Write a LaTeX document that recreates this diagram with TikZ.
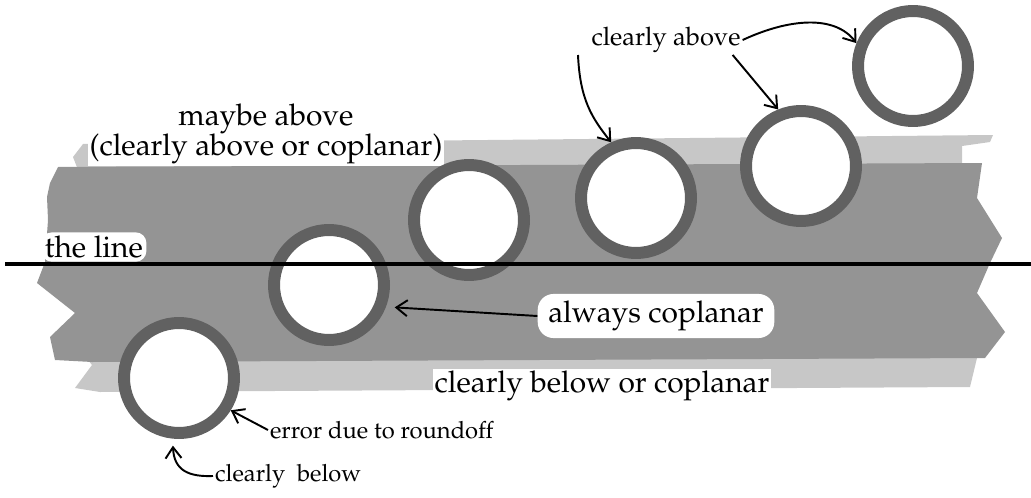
\documentclass[tikz,border=0pt]{standalone}
\usepackage[T1]{fontenc}
\usepackage{mathpazo}
\usepackage{tikz}
\usetikzlibrary{arrows.meta, calc}

\begin{document}
\begin{tikzpicture}[x=0.02cm, y=-0.02cm,
	lightband/.style={fill=black!22},
	darkband/.style={fill=black!42},
	ring/.style={circle, draw=black!62, line width=0.24cm, fill=white,
		minimum size=2.2cm, inner sep=0pt},
	bigtext/.style={font=\fontsize{17}{17.5}\selectfont, inner sep=1pt},
	midtext/.style={font=\fontsize{14.5}{16}\selectfont, inner sep=1pt},
	smalltext/.style={font=\fontsize{13.5}{15}\selectfont, inner sep=1pt},
	pointer/.style={-{Straight Barb[length=2.2mm, width=3.2mm]}, line width=1.1pt}]

	\useasboundingbox (0,0) rectangle (1031,497);

	% the two bands
	\fill[lightband] (83,144) -- (993,135) -- (990,142) -- (962,146) -- (962,170)
		-- (970,355) -- (977,358) -- (970,387) -- (100,392) -- (75,388)
		-- (92,365) -- (80,350) -- (80,175) -- (73,157) -- cycle;
	\fill[darkband] (58,167) -- (982,163) -- (977,198) -- (1002,238) -- (990,263)
		-- (977,293) -- (1005,332) -- (985,358) -- (92,362) -- (55,360)
		-- (50,337) -- (75,313) -- (37,283) -- (45,262) -- (48,220)
		-- (47,197) -- (50,183) -- cycle;

	% labels
	\node[bigtext, fill=white, align=center] (maybe) at (266,134)
		{maybe above\\(clearly above or coplanar)};
	\node[bigtext, fill=white, rounded corners=6pt, inner sep=2pt, anchor=south west]
		(lbl) at (41,262) {the line};
	\node[midtext] (above) at (666,40) {clearly above};
	\node[bigtext, fill=white, rounded corners=9pt, inner xsep=6pt, inner ysep=4pt]
		(always) at (656,316) {always coplanar};
	\node[bigtext, fill=white] (orbelow) at (602,386) {clearly below or coplanar};
	\node[smalltext, anchor=west] (roundoff) at (268,430) {error due to roundoff};
	\node[smalltext, anchor=west] (below) at (213,476) {clearly\ \ below};

	% the points with their error rings
	\node[ring] (c1) at (913,66) {};
	\node[ring] (c2) at (801,166) {};
	\node[ring] (c3) at (636,198) {};
	\node[ring] (c4) at (469,220) {};
	\node[ring] (c5) at (329,285) {};
	\node[ring] (c6) at (179,378) {};

	% the line
	\coordinate (l0) at (5,264);
	\coordinate (l1) at (1031,264);
	\draw[line width=0.08cm] (l0) -- (l1);

	% pointers
	\coordinate (t1) at (578,55);
	\draw[pointer] (t1) .. controls (580,100) and (592,118) .. (c3.114);
	\draw[pointer] ($(above.south east)+(-10,0)$) -- (c2.112);
	\draw[pointer] (above.east) .. controls (790,18) and (835,15) .. (c1.158);
	\draw[pointer, shorten >=5pt] (always.west) -- (c5.-21);
	\draw[pointer] (roundoff.west) -- (c6.-32);
	\draw[pointer, shorten >=4pt] (below.west) .. controls (188,477) and (174,470) .. (c6.-96);

\end{tikzpicture}
\end{document}
